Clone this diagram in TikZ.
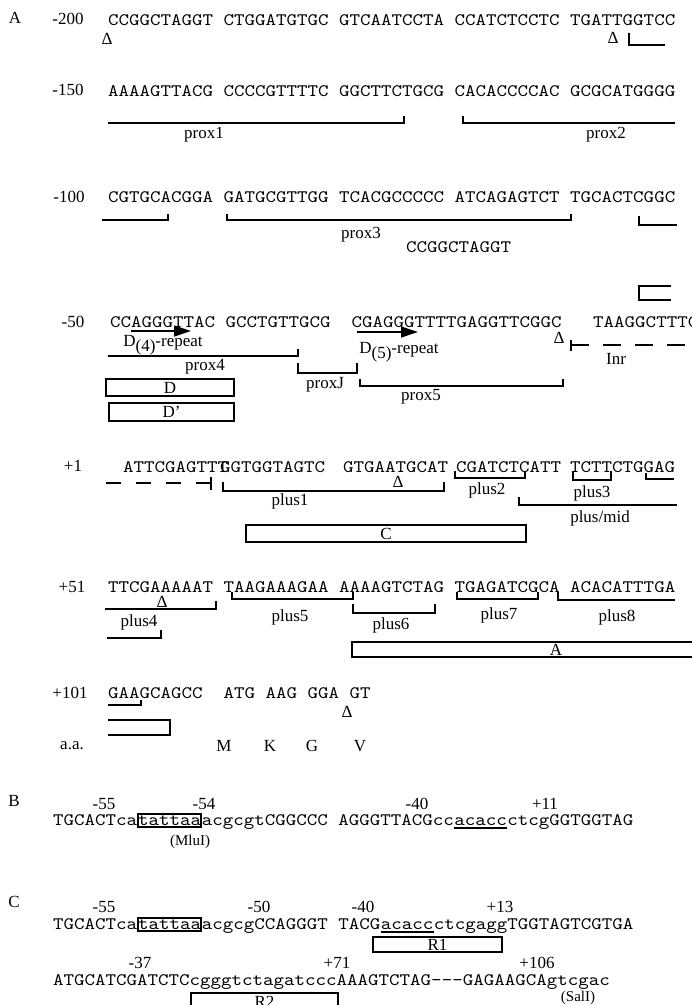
\documentclass[tikz,border=0pt]{standalone}
\usepackage{fontspec}
\setmainfont{Liberation Serif}
\newfontfamily\seqfamily{lmmono10-regular.otf}[FakeStretch=1.143]
\usetikzlibrary{arrows.meta}
\newcommand{\seqfont}{\seqfamily\fontsize{17.5}{20}\selectfont}
\newcommand{\lblfont}{\fontsize{17}{20}\selectfont}
\newcommand{\dsh}{\hbox{-}}
\tikzset{
  seq/.style={font=\seqfont, inner sep=0pt, anchor=base west},
  lbl/.style={font=\lblfont, inner sep=0pt},
  site/.style={font=\fontsize{15}{17}\selectfont, inner sep=0pt},
  brk/.style={line width=1.2pt},
  boxnode/.style={draw, line width=1.3pt, inner sep=0pt, font=\lblfont},
  rptarrow/.style={line width=1.2pt, -{Triangle[length=17pt,width=11pt]}},
}
\begin{document}
\begin{tikzpicture}[x=1pt, y=-1pt]
\useasboundingbox (0,0) rectangle (692,1005);
\clip (0,0) rectangle (692,1005);
\fill[white] (0,0) rectangle (692,1005);

% panel A: positions
\node[lbl] (A) at (15,18) {A};
\foreach \n/\x/\y [count=\i] in {-200/68/19, -150/68/90, -100/69/197, -50/73/322, +1/73/466, +51/72/587, +101/70/693}
  \node[lbl] (row\i) at (\x,\y) {\n};

% panel A: sequence
\node[seq] (s1) at (108,25) {CCGGCTAGGT CTGGATGTGC GTCAATCCTA CCATCTCCTC TGATTGGTCC};
\node[seq] (s2) at (108,96) {AAAAGTTACG CCCCGTTTTC GGCTTCTGCG CACACCCCAC GCGCATGGGG};
\node[seq] (s3) at (108,202) {CGTGCACGGA GATGCGTTGG TCACGCCCCC ATCAGAGTCT TGCACTCGGC};
\node[seq] (s3b) at (406,252) {CCGGCTAGGT};
\node[seq] (s4) at (110,327) {CCAGGGTTAC GCCTGTTGCG~~CGAGGGTTTTGAGGTTCGGC~~~TAAGGCTTTC};
\node[seq] (s5a) at (123,472) {ATTCGAGTTT};
\node[seq] (s5b) at (220,472) {GGTGGTAGTC};
\node[seq] (s5c) at (343,472) {GTGAATGCAT};
\node[seq] (s5d) at (456,472) {CGATCTCATT};
\node[seq] (s5e) at (570,472) {TCTTCTGGAG};
\node[seq] (s6) at (108,592) {TTCGAAAAAT TAAGAAAGAA AAAAGTCTAG TGAGATCGCA ACACATTTGA};
\node[seq] (s7) at (108,698) {GAAGCAGCC~~ATG AAG GGA GT};

% deletions
\foreach \x/\y [count=\i] in {107/39, 613/38, 559/338, 398/482, 162/602, 347/712}
  \node[lbl] (del\i) at (\x,\y) {Δ};

% the brackets
\foreach \xa/\xb/\yt/\yb in {227/571/214/220, 298/357/363/373, 360/563/379/386, 223/444/482/491,
    455/525/471/478, 573/611/471/480, 232/353/592/599, 353/435/604/613, 457/538/592/599}
  \draw[brk] (\xa,\yt) |- (\xb,\yb) -- (\xb,\yt);
\foreach \xa/\xb/\yt/\yb in {629/665/33/45, 463/675/116/123, 639/677/216/225, 646/674/473/479,
    519/677/497/505, 558/675/592/600}
  \draw[brk] (\xa,\yt) |- (\xb,\yb);
\foreach \xa/\xb/\yt/\yb in {108/404/116/123, 102/168/214/220, 108/298/349/356, 105/216/601/609,
    107/161/630/638, 108/141/700/705}
  \draw[brk] (\xa,\yb) -| (\xb,\yt);
\draw[brk] (671,286) -- (639,286) -- (639,300) -- (671,300);
\draw[brk] (108,720) -| (170,735) -- (108,735);

% element names
\foreach \t/\x/\y [count=\i] in {prox1/204/135, prox2/606/135, prox3/361/235, prox4/205/367,
    proxJ/325/385, prox5/421/397, Inr/616/359, plus1/290/501, plus2/487/490, plus3/592/493,
    plus4/139/622, plus5/290/617, plus6/391/625, plus7/499/615, plus8/617/617}
  \node[lbl] (lab\i) at (\x,\y) {\t};
\node[lbl] (labmid) at (600,518) {plus/mid};

% the repeats
\draw[rptarrow] (131,331) -- (191,331);
\draw[rptarrow] (357,332) -- (418,332);
\node[lbl] (rep4) at (163,345) {D\raisebox{-5pt}{(4)}-repeat};
\node[lbl] (rep5) at (399,352) {D\raisebox{-5pt}{(5)}-repeat};

% Inr and the dashed run
\draw[brk] (571,340) -- (571,351);
\draw[brk, dash pattern=on 18pt off 14pt] (571,345) -- (692,345);
\draw[brk] (211,477) -- (211,490);
\draw[brk, dash pattern=on 15pt off 15pt] (211,483) -- (106,483);

% footprints
\node[boxnode, minimum width=128pt, minimum height=17pt] (boxD) at (170,387.5) {D};
\node[boxnode, minimum width=125pt, minimum height=18pt] (boxDp) at (171.5,412) {D'};
\node[boxnode, minimum width=280pt, minimum height=17pt] (boxC) at (386,533.5) {C};
\draw[line width=1.3pt] (700,642) -- (352,642) -- (352,657) -- (700,657);
\node[lbl] (boxA) at (556,650) {A};

% amino acids
\node[lbl] (aa) at (72,746) {a.a.};
\foreach \t/\x [count=\i] in {M/224, K/270, G/312, V/360}
  \node[lbl] (aa\i) at (\x,746) {\t};

% panel B
\node[lbl] (B) at (14,801) {B};
\foreach \t/\x [count=\i] in {-55/104, -54/204, -40/417, +11/545}
  \node[lbl] (bn\i) at (\x,804) {\t};
\node[seq] (b1) at (53,825) {TGCACTca};
\node[seq, draw, line width=1.3pt, text height=11pt, text depth=2pt] (b2) at (b1.base east) {tattaa};
\node[seq] (b3) at (b2.base east) {acgcgtCGGCCC AGGGTTACGcc};
\node[seq] (b4) at (b3.base east) {acacc};
\node[seq] (b5) at (b4.base east) {ctcgGGTGGTAG};
\draw[brk] ([yshift=-3pt]b4.base west) -- ([yshift=-3pt]b4.base east);
\node[site] (mlu) at (190,842) {(MluI)};

% panel C
\node[lbl] (C) at (14,902) {C};
\foreach \t/\x [count=\i] in {-55/104, -50/259, -40/363, +13/500}
  \node[lbl] (cn\i) at (\x,907) {\t};
\node[seq] (c1) at (53,929) {TGCACTca};
\node[seq, draw, line width=1.3pt, text height=11pt, text depth=2pt] (c2) at (c1.base east) {tattaa};
\node[seq] (c3) at (c2.base east) {acgcgCCAGGGT TACG};
\node[seq] (c4) at (c3.base east) {acacc};
\node[seq] (c5) at (c4.base east) {ctcgaggTGGTAGTCGTGA};
\draw[brk] ([yshift=-3pt]c4.base west) -- ([yshift=-3pt]c4.base east);
\node[boxnode, minimum width=129pt, minimum height=15pt] (R1) at (437.5,944.5) {R1};
\foreach \t/\x [count=\i] in {-37/140, +71/337, +106/537}
  \node[lbl] (cm\i) at (\x,963) {\t};
\node[seq] (c6) at (53,985) {ATGCATCGATCTCcgggtctagatcccAAAGTCTAG\dsh\dsh\dsh GAGAAGCAgtcgac};
\node[boxnode, minimum width=147pt, minimum height=17pt] (R2) at (264.5,1001.5) {R2};
\node[site] (sal) at (578,998) {(SalI)};
\end{tikzpicture}
\end{document}
